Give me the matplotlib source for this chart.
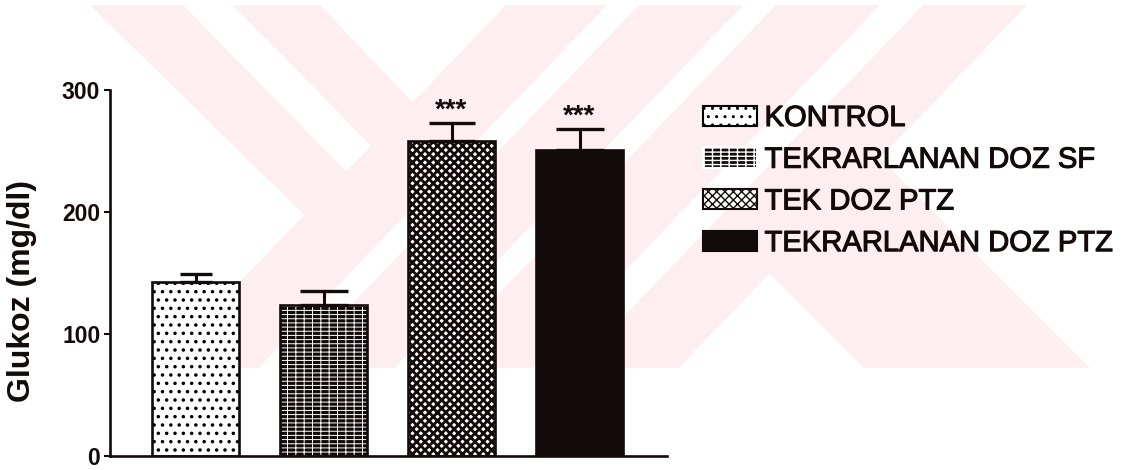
import matplotlib
matplotlib.use("Agg")
import matplotlib.pyplot as plt
from matplotlib.patches import Polygon
import matplotlib.patheffects as pe

# ---- data -------------------------------------------------------------
groups = ["KONTROL", "TEKRARLANAN DOZ SF", "TEK DOZ PTZ", "TEKRARLANAN DOZ PTZ"]
glucose_mean = [143, 124, 258, 251]
glucose_sem = [6, 11, 15, 17]
significance = ["", "", "***", "***"]
y_ticks = [0, 100, 200, 300]

# ---- styling ----------------------------------------------------------
plt.rcParams["font.family"] = ["Liberation Sans", "DejaVu Sans"]
INK = "#120a0b"
W, H = 1126, 470

fig = plt.figure(figsize=(W / 100, H / 100), dpi=100)
fig.patch.set_facecolor("white")

# faint institutional watermark behind the chart (pixel coordinates, y down)
bg = fig.add_axes([0, 0, 1, 1], zorder=0)
bg.set_xlim(0, W)
bg.set_ylim(H, 0)
bg.axis("off")
pink = "#fdeef1"
mark_outline = [(90, 5), (320, 5), (412.5, 102.4), (506, 5), (1027, 5),
                (880, 158), (1090, 368), (864, 368), (769.4, 273.4),
                (678.5, 368), (157.5, 368), (304.3, 215)]
bg.add_patch(Polygon(mark_outline, closed=True, fc=pink, ec="none"))
mark_gaps = [[(183, 5), (233, 5), (371, 145.7), (346, 171.5)],
             [(607, 5), (639, 5), (290.5, 368), (258.5, 368)],
             [(743, 5), (776, 5), (427.5, 368), (394.5, 368)],
             [(880, 5), (923, 5), (574.5, 368), (531.5, 368)]]
for g in mark_gaps:
    bg.add_patch(Polygon(g, closed=True, fc="white", ec="none"))

# ---- main axes --------------------------------------------------------
ax = fig.add_axes([110 / W, (H - 456) / H, (667 - 110) / W, (456 - 90) / H], zorder=1)
ax.patch.set_alpha(0)

x = list(range(len(groups)))
width = 0.68

# fill styles per group: (face, hatch, hatch colour, hatch linewidth)
fills = [("white", "..", "black", 1.3),
         (INK, "----||", "white", 0.7),
         ("white", "xxxx", INK, 2.0),
         (INK, "", INK, 1.0)]

handles = []
for i, (fc, hatch, hc, hlw) in enumerate(fills):
    with plt.rc_context({"hatch.linewidth": hlw}):
        b = ax.bar(x[i], glucose_mean[i], width=width, color=fc, edgecolor=hc,
                   hatch=hatch, linewidth=0, zorder=2, label=groups[i])
        for p in b:
            if hasattr(p, "set_hatch_linewidth"):
                p.set_hatch_linewidth(hlw)
    ax.bar(x[i], glucose_mean[i], width=width, color="none", edgecolor=INK,
           linewidth=1.9, zorder=3)
    handles.append(b)

# one-sided (upper) error bars
cap_sizes = [11.5, 17, 16.5, 17]
for i in x:
    ax.errorbar(x[i], glucose_mean[i], yerr=[[0], [glucose_sem[i]]], fmt="none",
                ecolor=INK, elinewidth=2.2, capsize=cap_sizes[i], capthick=2.4,
                zorder=4)
    if significance[i]:
        ax.annotate(significance[i], (x[i], glucose_mean[i] + glucose_sem[i]),
                    xytext=(0, 4), textcoords="offset points", ha="center",
                    va="baseline", fontsize=20, fontweight="bold", color=INK)

ax.set_xlim((110 - 195.5) / 128, (667 - 195.5) / 128)
ax.set_ylim(0, 300)
ax.set_yticks(y_ticks)
ax.set_yticklabels([str(t) for t in y_ticks], fontsize=16.5, fontweight="bold")
ax.set_xticks([])
for side in ("top", "right"):
    ax.spines[side].set_visible(False)
for side in ("left", "bottom"):
    ax.spines[side].set_linewidth(1.9)
    ax.spines[side].set_color(INK)
ax.tick_params(axis="y", length=4.5, width=1.5, pad=2.5, colors=INK)

ax.set_ylabel("Glukoz (mg/dl)", fontsize=23, fontweight="bold", color=INK)
ax.yaxis.set_label_coords(-0.131, 0.45)

leg = ax.legend(handles=handles, loc="upper left",
                bbox_to_anchor=(703 / W, 1 - 104 / H), bbox_transform=fig.transFigure,
                frameon=False, fontsize=21, borderpad=0, borderaxespad=0,
                handlelength=1.85, handleheight=0.7, handletextpad=0.26,
                labelspacing=0.47)
for t in leg.get_texts():
    t.set_color(INK)
    t.set_path_effects([pe.withStroke(linewidth=0.8, foreground=INK)])
for h in leg.legend_handles:
    h.set_linewidth(1.5)

fig.savefig("out.png", dpi=100, facecolor="white")
